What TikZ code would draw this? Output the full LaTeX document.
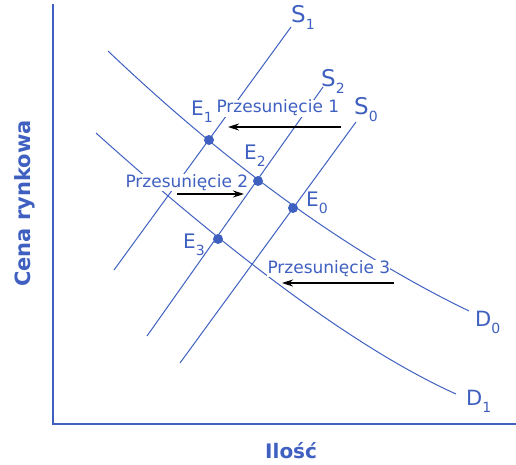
\documentclass[tikz,border=0pt]{standalone}
\usepackage{fontspec}
\setmainfont{DejaVu Sans}
\usetikzlibrary{arrows.meta}
\definecolor{mblue}{RGB}{63,96,192}
\newcommand\subsc[1]{\raisebox{-7pt}{\fontsize{14}{14}\selectfont #1}}
\begin{document}
\begin{tikzpicture}[x=1pt,y=-1pt,
  curve/.style={mblue,line width=1pt},
  ax/.style={mblue,line width=1.3pt},
  shiftarrow/.style={black,line width=1.3pt,-{Stealth[length=11pt,width=7pt]}},
  dot/.style={circle,fill=mblue,inner sep=0pt,minimum size=10pt},
  elab/.style={text=mblue,font=\fontsize{20}{20}\selectfont,inner sep=0pt},
  slab/.style={text=mblue,font=\fontsize{23}{23}\selectfont,inner sep=0pt},
  dlab/.style={text=mblue,font=\fontsize{21}{21}\selectfont,inner sep=0pt},
  shiftlab/.style={text=mblue,fill=white,font=\fontsize{17}{17}\selectfont,inner sep=0.3pt},
  axlab/.style={text=mblue,font=\bfseries\fontsize{20}{20}\selectfont,inner sep=0pt}]
\useasboundingbox (0,0) rectangle (516,465);
% axes
\coordinate (ytop) at (53,4);
\coordinate (orig) at (53,424);
\coordinate (xend) at (516,424);
\draw[ax] (ytop) -- (orig) -- (xend);
% supply lines
\coordinate (s1a) at (114,270); \coordinate (s1b) at (291,27);
\coordinate (s2a) at (147,336); \coordinate (s2b) at (323,87);
\coordinate (s0a) at (180,363); \coordinate (s0b) at (356,122);
\draw[curve] (s1a) -- (s1b);
\draw[curve] (s2a) -- (s2b);
\draw[curve] (s0a) -- (s0b);
% demand curves
\coordinate (d0a) at (108,51); \coordinate (d0b) at (469,311);
\coordinate (d1a) at (96,133); \coordinate (d1b) at (456,394);
\draw[curve] (d0a) .. controls (231,168) and (351,254) .. (d0b);
\draw[curve] (d1a) .. controls (243,265) and (363,352) .. (d1b);
% equilibrium points
\node[dot] (e1) at (209,140) {};
\node[dot] (e2) at (258,181) {};
\node[dot] (e0) at (293,208) {};
\node[dot] (e3) at (218,239) {};
% labels
\node[elab,anchor=base west] (le1) at (191,116) {E\subsc{1}};
\node[elab,anchor=base west] (le2) at (244,160) {E\subsc{2}};
\node[elab,anchor=base west] (le0) at (306,206) {E\subsc{0}};
\node[elab,anchor=base west] (le3) at (183,248) {E\subsc{3}};
\node[slab,anchor=base west] (ls1) at (291,23) {S\subsc{1}};
\node[slab,anchor=base west] (ls2) at (321,87) {S\subsc{2}};
\node[slab,anchor=base west] (ls0) at (354,115) {S\subsc{0}};
\node[dlab,anchor=base west] (ld0) at (475,326) {D\subsc{0}};
\node[dlab,anchor=base west] (ld1) at (466,405) {D\subsc{1}};
% shift labels
\node[shiftlab,anchor=base west] (p1) at (216,113) {Przesunięcie 1};
\node[shiftlab,anchor=base west] (p2) at (125,187) {Przesunięcie 2};
\node[shiftlab,anchor=base west] (p3) at (267,273) {Przesunięcie 3};
% arrows
\coordinate (a1s) at (341,127); \coordinate (a1e) at (228,127);
\coordinate (a2s) at (177,194); \coordinate (a2e) at (244,194);
\coordinate (a3s) at (394,283); \coordinate (a3e) at (282,283);
\draw[shiftarrow] (a1s) -- (a1e);
\draw[shiftarrow] (a2s) -- (a2e);
\draw[shiftarrow] (a3s) -- (a3e);
% axis labels
\node[axlab,anchor=base west] (xl) at (265,458) {Ilość};
\node[axlab,anchor=base west,rotate=90,font=\bfseries\fontsize{21}{21}\selectfont] (yl) at (30,287) {Cena rynkowa};
\end{tikzpicture}
\end{document}
